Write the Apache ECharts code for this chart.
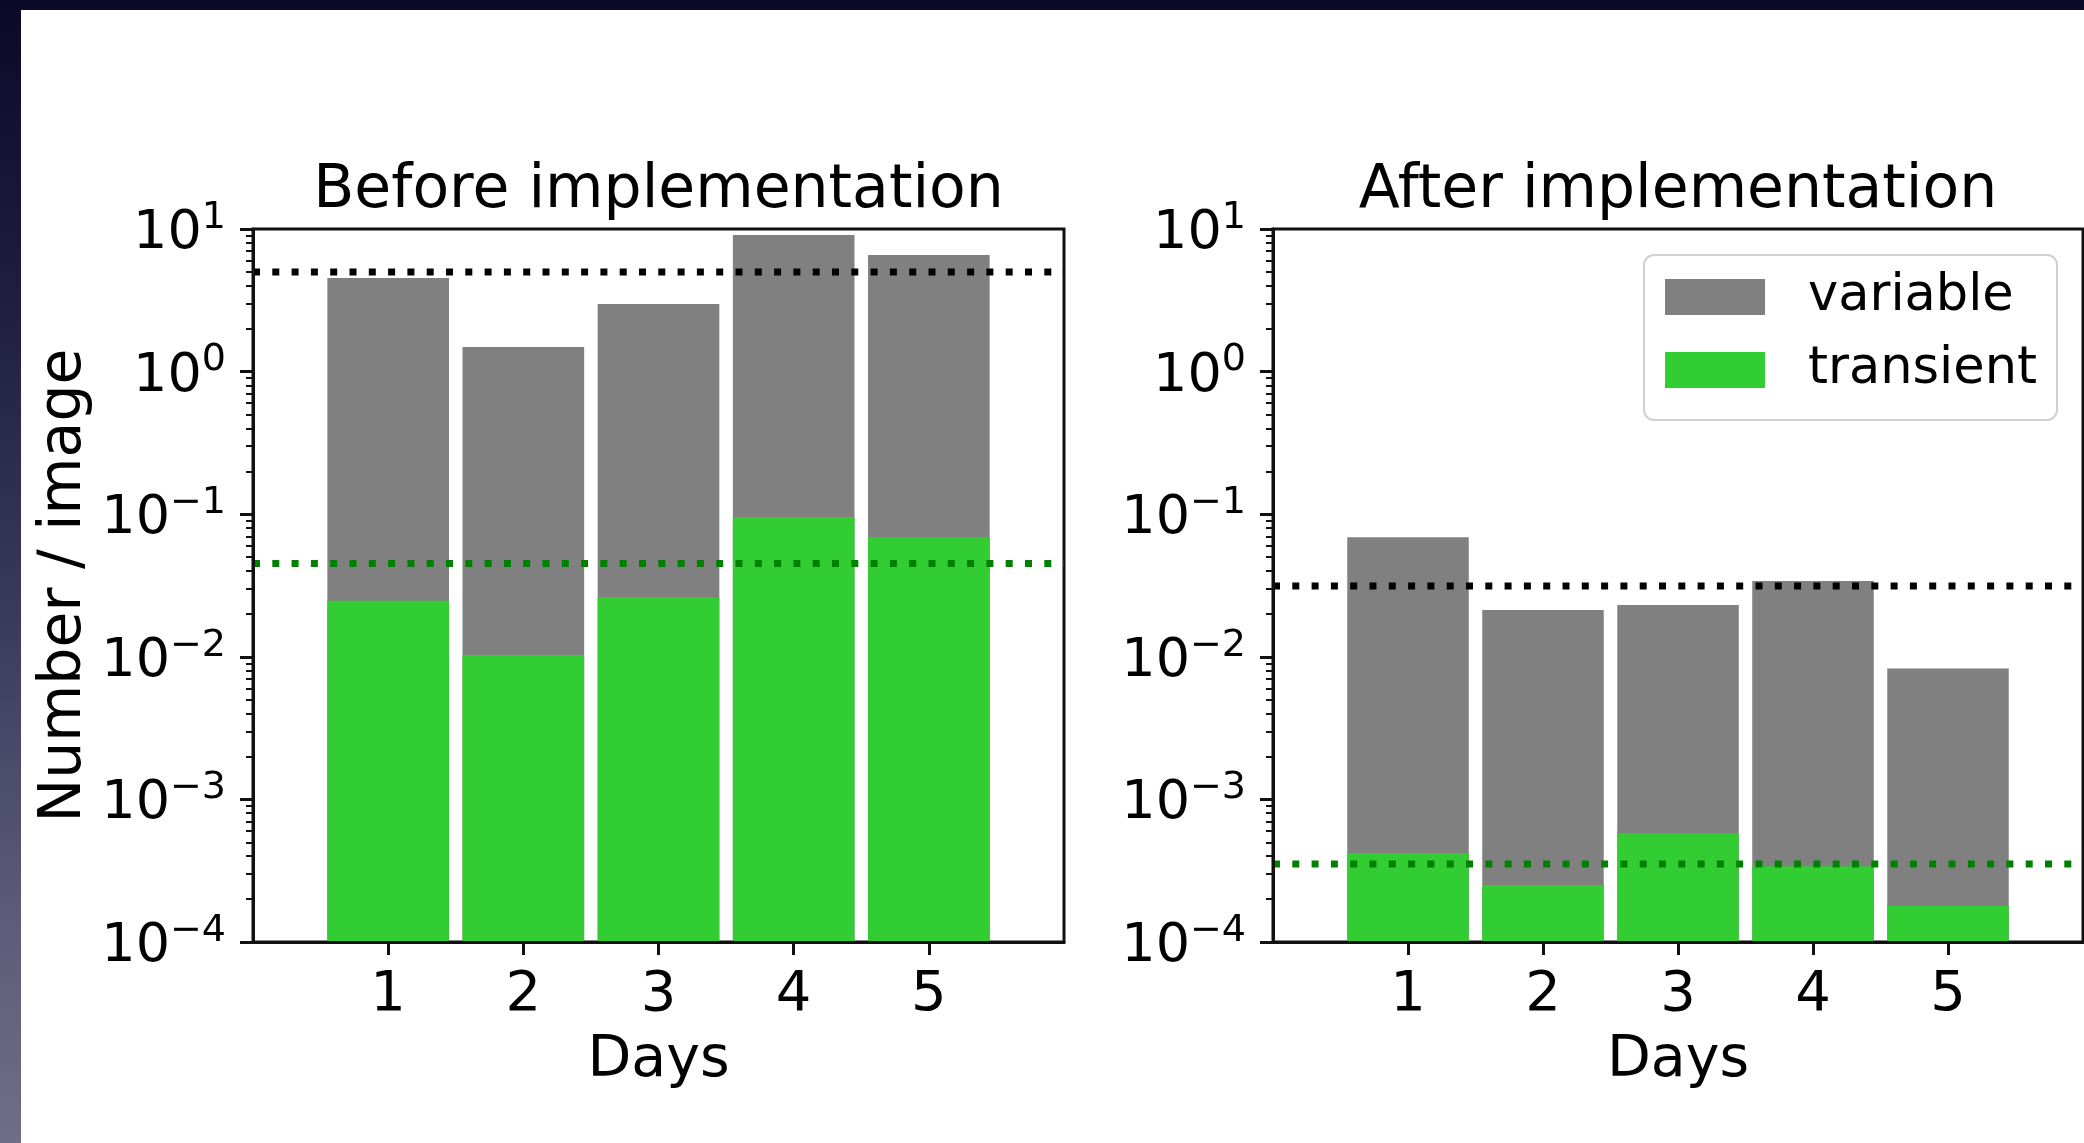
<!DOCTYPE html>
<html>
<head>
<meta charset="utf-8">
<title>Detections per image</title>
<script src="https://cdn.jsdelivr.net/npm/echarts@6/dist/echarts.min.js"></script>
<style>
  html, body { margin: 0; padding: 0; width: 2084px; height: 1143px; overflow: hidden; }
  body { background: linear-gradient(180deg, #0a0927 0%, #1e1d40 25%, #3b3b5d 55%, #5c5c78 80%, #6e6e88 100%); }
  #sheet { position: absolute; left: 21px; top: 10px; right: 0; bottom: 0; background: #ffffff; }
  #chart { position: absolute; left: 0; top: 0; width: 2084px; height: 1143px; }
</style>
</head>
<body>
<div id="sheet"></div>
<div id="chart"></div>
<script>
// Number of detections per image, per observing day
const days = [1, 2, 3, 4, 5];
const beforeVariable  = [4.53, 1.49, 2.98, 9.08, 6.58];
const beforeTransient = [0.0247, 0.0103, 0.0262, 0.0955, 0.069];
const afterVariable   = [0.069, 0.0213, 0.0231, 0.034, 0.00828];
const afterTransient  = [0.00042, 0.000251, 0.00058, 0.00034, 0.000179];

// Averages over the five days (dotted lines)
const beforeVariableMean  = 5.0;
const beforeTransientMean = 0.0451;
const afterVariableMean   = 0.0314;
const afterTransientMean  = 0.000352;

// Axis ticks
const dayTicks = [1, 2, 3, 4, 5];
const yExponents = [-4, -3, -2, -1, 0, 1];
const panelTitles = ['Before implementation', 'After implementation'];

const GREY = '#808080';
const LIME = '#32cd32';
const FONT = 'DejaVu Sans';
const INK = '#111111';
const Y_MIN = Math.pow(10, yExponents[0]);
const Y_MAX = Math.pow(10, yExponents[yExponents.length - 1]);
const X_MIN = 0, X_MAX = 6;
const BAR_WIDTH = 0.9;

// minor ticks of the log axis: 2..9 times each decade
const minorTicks = [];
for (let e = yExponents[0]; e < yExponents[yExponents.length - 1]; e++) {
  for (let m = 2; m <= 9; m++) minorTicks.push(m * Math.pow(10, e));
}

const grids = [
  { left: 253, top: 229, width: 811, height: 713 },
  { left: 1273, top: 229, width: 810, height: 713 }
];

function superscript(v) {
  const e = Math.round(Math.log10(v));
  return '{b|10}{e|' + (e < 0 ? '\u2212' + (-e) : String(e)) + '}';
}

function xAxisFor(i) {
  return {
    type: 'value', gridIndex: i, min: X_MIN, max: X_MAX, interval: 1, z: 10,
    axisLine: { show: true, onZero: false, lineStyle: { color: INK, width: 3 } },
    axisTick: { show: true, customValues: dayTicks, length: 13, lineStyle: { color: INK, width: 3 } },
    axisLabel: { customValues: dayTicks, margin: 25, fontFamily: FONT, fontSize: 56, color: '#000' },
    splitLine: { show: false },
    name: 'Days', nameLocation: 'middle', nameGap: 91,
    nameTextStyle: { fontFamily: FONT, fontSize: 57, color: '#000' }
  };
}

function yAxisFor(i) {
  const ax = {
    type: 'log', logBase: 10, gridIndex: i, min: Y_MIN, max: Y_MAX, z: 10,
    axisLine: { show: true, lineStyle: { color: INK, width: 3 } },
    axisTick: { show: true, length: 13, lineStyle: { color: INK, width: 3 } },
    axisLabel: {
      margin: 27, formatter: superscript,
      rich: {
        b: { fontFamily: FONT, fontSize: 54, color: '#000', lineHeight: 60, padding: [10, 0, 0, 0] },
        e: { fontFamily: FONT, fontSize: 38, color: '#000', lineHeight: 60, verticalAlign: 'top' }
      }
    },
    splitLine: { show: false }
  };
  if (i === 0) {
    ax.name = 'Number / image';
    ax.nameLocation = 'middle';
    ax.nameGap = 159;
    ax.nameTextStyle = { fontFamily: FONT, fontSize: 58.5, color: '#000' };
  }
  return ax;
}

function minorAxisFor(i) {
  return {
    type: 'log', logBase: 10, gridIndex: i, min: Y_MIN, max: Y_MAX, position: 'left', z: 10,
    axisLine: { show: false },
    axisTick: { show: true, customValues: minorTicks, length: 7, lineStyle: { color: INK, width: 2 } },
    axisLabel: { show: false },
    splitLine: { show: false }
  };
}

function barSeries(name, values, color, gi) {
  return {
    type: 'custom', name: name, xAxisIndex: gi, yAxisIndex: gi,
    itemStyle: { color: color },
    data: days.map((d, k) => [d, values[k]]),
    renderItem: function (params, api) {
      const x = api.value(0), v = api.value(1);
      const topLeft = api.coord([x - BAR_WIDTH / 2, v]);
      const bottomRight = api.coord([x + BAR_WIDTH / 2, Y_MIN]);
      return {
        type: 'rect',
        shape: { x: topLeft[0], y: topLeft[1], width: bottomRight[0] - topLeft[0], height: bottomRight[1] - topLeft[1] },
        style: { fill: color }
      };
    }
  };
}

function meanLine(name, value, color, gi) {
  return {
    type: 'line', name: name, xAxisIndex: gi, yAxisIndex: gi,
    data: [[X_MIN, value], [X_MAX, value]],
    symbol: 'none', silent: true, z: 5,
    lineStyle: { color: color, width: 7, type: [7, 12.3], cap: 'butt' }
  };
}

const option = {
  animation: false,
  textStyle: { fontFamily: FONT },
  grid: grids.map(g => Object.assign({ show: true, borderColor: INK, borderWidth: 3, backgroundColor: 'transparent' }, g)),
  xAxis: [xAxisFor(0), xAxisFor(1)],
  yAxis: [yAxisFor(0), yAxisFor(1), minorAxisFor(0), minorAxisFor(1)],
  legend: {
    data: ['variable', 'transient'],
    orient: 'vertical', left: 1644, top: 255,
    icon: 'rect', itemWidth: 100, itemHeight: 36, itemGap: 21,
    padding: [16, 20, 24, 21],
    backgroundColor: '#ffffff', borderColor: '#d0d0d0', borderWidth: 2, borderRadius: 10,
    textStyle: { fontFamily: FONT, fontSize: 51, color: '#000', lineHeight: 52, padding: [0, 0, 0, 38] }
  },
  graphic: panelTitles.map((t, i) => ({
    type: 'text', x: grids[i].left + grids[i].width / 2, y: 191,
    style: { text: t, fontFamily: FONT, fontSize: 60, fill: '#000', textAlign: 'center', textVerticalAlign: 'middle' }
  })),
  series: [
    barSeries('variable', beforeVariable, GREY, 0),
    barSeries('transient', beforeTransient, LIME, 0),
    meanLine('variable average', beforeVariableMean, '#000000', 0),
    meanLine('transient average', beforeTransientMean, '#008000', 0),
    barSeries('variable', afterVariable, GREY, 1),
    barSeries('transient', afterTransient, LIME, 1),
    meanLine('variable average', afterVariableMean, '#000000', 1),
    meanLine('transient average', afterTransientMean, '#008000', 1)
  ]
};

const chart = echarts.init(document.getElementById('chart'), null, { renderer: 'canvas' });
chart.setOption(option);
</script>
</body>
</html>
